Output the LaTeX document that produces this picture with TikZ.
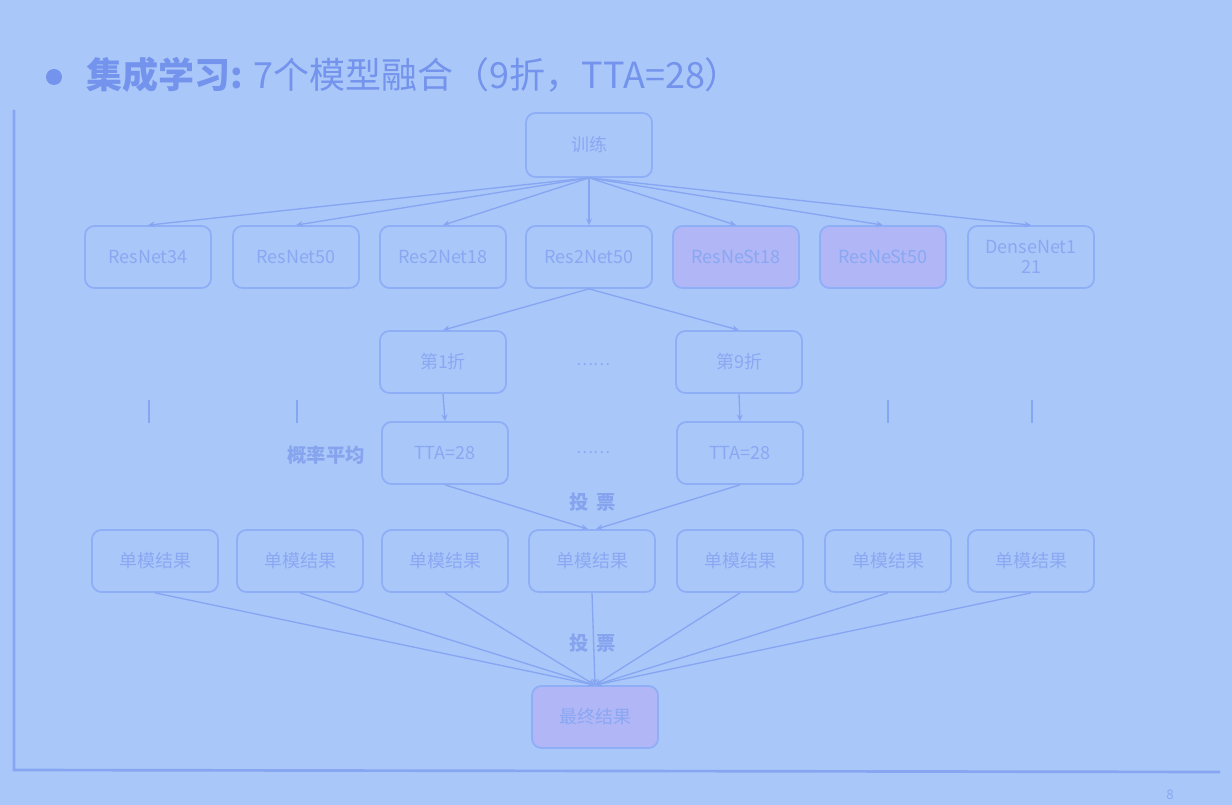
\documentclass[tikz,border=0pt]{standalone}
\usepackage{fontspec}
\setmainfont{Noto Sans CJK SC}
\usetikzlibrary{arrows.meta}
\definecolor{bg}{HTML}{AAC7FA}
\definecolor{boxline}{HTML}{8EAEF6}
\definecolor{boxtext}{HTML}{8AA8F2}
\definecolor{edge}{HTML}{86A6F2}
\definecolor{titlec}{HTML}{7393EC}
\definecolor{pinkfill}{HTML}{B0B6F6}
\definecolor{labelc}{HTML}{86A3EE}
\begin{document}
\begin{tikzpicture}[x=0.75pt,y=-0.75pt,
  box/.style={draw=boxline, line width=1.3pt, rounded corners=7pt, minimum width=94.5pt, minimum height=46.5pt, text=boxtext, font=\fontsize{13.5}{15}\selectfont, align=center, inner sep=1pt},
  pinkbox/.style={box, fill=pinkfill},
  conn/.style={draw=edge, line width=1pt, -{Stealth[length=5pt,width=4.5pt]}},
  plain/.style={draw=edge, line width=1pt},
  lab/.style={text=labelc, font=\fontsize{14.5}{16}\selectfont\bfseries},
  dots/.style={text=boxtext, font=\fontsize{12}{14}\selectfont}
]
\fill[bg] (0,0) rectangle (1232,805);
\useasboundingbox (0,0) rectangle (1232,805);
% slide frame
\draw[draw=edge, line width=2pt] (14,110) -- (14,770) -- (1220,772);
\node[text=boxtext, font=\fontsize{10}{12}\selectfont] (pg) at (1170,795) {8};
% title
\fill[titlec] (54,77) circle (8);
\node[anchor=west, text=titlec, font=\fontsize{27}{30}\selectfont, inner sep=0pt] (title) at (86,75) {\textbf{集成学习:} 7个模型融合（9折，TTA=28）};
% nodes
\node[box, minimum height=48pt] (train) at (589,145) {训练};
\node[box] (m1) at (148,257) {ResNet34};
\node[box] (m2) at (296,257) {ResNet50};
\node[box] (m3) at (443,257) {Res2Net18};
\node[box] (m4) at (589,257) {Res2Net50};
\node[pinkbox] (m5) at (736,257) {ResNeSt18};
\node[pinkbox] (m6) at (883,257) {ResNeSt50};
\node[box] (m7) at (1031,257) {DenseNet1\\21};
\node[box] (f1) at (443,362) {第1折};
\node[box] (f9) at (739,362) {第9折};
\node[box] (t1) at (445,453) {TTA=28};
\node[box] (t9) at (740,453) {TTA=28};
\node[dots] (d1) at (593,365) {……};
\node[dots] (d2) at (593,453) {……};
\node[lab] (avg) at (326,455) {概率平均};
\node[lab] (vote1) at (593,502) {投\hspace{0.4em}票};
\node[lab] (vote2) at (593,643) {投\hspace{0.4em}票};
\node[box] (s1) at (155,561) {单模结果};
\node[box] (s2) at (300,561) {单模结果};
\node[box] (s3) at (445,561) {单模结果};
\node[box] (s4) at (592,561) {单模结果};
\node[box] (s5) at (740,561) {单模结果};
\node[box] (s6) at (888,561) {单模结果};
\node[box] (s7) at (1031,561) {单模结果};
\node[pinkbox] (fin) at (595,717) {最终结果};
% separators
\coordinate (v1a) at (149,400); \coordinate (v1b) at (149,423);
\coordinate (v2a) at (297,400); \coordinate (v2b) at (297,423);
\coordinate (v3a) at (888,400); \coordinate (v3b) at (888,423);
\coordinate (v4a) at (1032,400); \coordinate (v4b) at (1032,423);
\draw[plain] (v1a) -- (v1b);
\draw[plain] (v2a) -- (v2b);
\draw[plain] (v3a) -- (v3b);
\draw[plain] (v4a) -- (v4b);
% edges
\foreach \m in {m1,m2,m3,m4,m5,m6,m7} \draw[conn] (train.south) -- (\m.north);
\draw[conn] (m4.south) -- (f1.north);
\draw[conn] (m4.south) -- (f9.north);
\draw[conn] (f1.south) -- (t1.south |- t1.north);
\draw[conn] (f9.south) -- (t9.south |- t9.north);
\draw[conn] (t1.south) -- ([xshift=-3pt]s4.north);
\draw[conn] (t9.south) -- ([xshift=3pt]s4.north);
\foreach \s in {s1,s2,s3,s4,s5,s6,s7} \draw[conn] (\s.south) -- (fin.north);
\end{tikzpicture}
\end{document}
